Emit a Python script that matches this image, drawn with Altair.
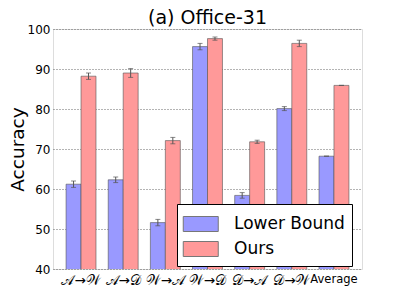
import altair as alt
import pandas as pd

categories = ["𝒜→𝒲", "𝒜→𝒟", "𝒲→𝒜", "𝒲→𝒟", "𝒟→𝒜", "𝒟→𝒲", "Average"]
series = ["Lower Bound", "Ours"]
lower = [61.2, 62.3, 51.6, 95.6, 58.4, 80.1, 68.2]
lower_err = [0.8, 0.7, 0.8, 0.8, 0.7, 0.5, 0.0]
ours = [88.2, 89.0, 72.1, 97.6, 71.8, 96.4, 85.9]
ours_err = [0.8, 1.1, 0.8, 0.4, 0.4, 0.8, 0.0]
yticks = [40, 50, 60, 70, 80, 90, 100]

rows = []
for c, v, e in zip(categories, lower, lower_err):
    rows.append({"cat": c, "series": "Lower Bound", "val": v, "lo": v - e, "hi": v + e})
for c, v, e in zip(categories, ours, ours_err):
    rows.append({"cat": c, "series": "Ours", "val": v, "lo": v - e, "hi": v + e})
df = pd.DataFrame(rows)

FONT = "DejaVu Sans"
xscale = alt.Scale(paddingInner=0.29, paddingOuter=0.31)
xaxis = alt.Axis(labelAngle=0, labelFontSize=alt.expr("datum.value == 'Average' ? 11.5 : 13.5"),
                 labelFont=FONT, labelColor="black",
                 ticks=False, domain=False, labelPadding=4, grid=False)
xenc = alt.X("cat:N", sort=categories, title=None, scale=xscale, axis=xaxis)
xoff = alt.XOffset("series:N", sort=series, scale=alt.Scale(paddingInner=0, paddingOuter=0))
yscale = alt.Scale(domain=[40, 100], nice=False, zero=False)
yaxis = alt.Axis(values=yticks, labelFontSize=12, labelFont=FONT,
                 labelColor="black", labelPadding=3, titleFont=FONT, titleFontSize=18.5,
                 titleFontWeight="normal", titleColor="black", titlePadding=0,
                 ticks=False, domain=False, labelOverlap=False,
                 gridDash=[1, 2], gridColor="#444444", gridOpacity=0.8)

bars = alt.Chart(df).mark_bar(stroke="#555555", strokeWidth=1, strokeOpacity=0.6, clip=True).encode(
    x=xenc,
    xOffset=xoff,
    y=alt.Y("val:Q", title="Accuracy", scale=yscale, axis=yaxis),
    color=alt.Color("series:N", sort=series,
                    scale=alt.Scale(domain=series, range=["#9999ff", "#ff9999"]),
                    legend=alt.Legend(title=None, orient="none", legendX=124, legendY=175,
                                      symbolType="M-1.1,-0.6H1.7V0.6H-1.1Z", symbolSize=625,
                                      symbolStrokeColor="#777777", symbolStrokeWidth=1,
                                      labelFontSize=17, labelFont=FONT, labelColor="black",
                                      labelOffset=24, rowPadding=2,
                                      fillColor="white", strokeColor="black", padding=7,
                                      symbolOpacity=1)),
)

rules = alt.Chart(df).mark_rule(color="#555555", strokeWidth=1).encode(
    x=xenc, xOffset=xoff, y=alt.Y("lo:Q", title="Accuracy", scale=yscale, axis=yaxis), y2="hi:Q")
cap_lo = alt.Chart(df).mark_tick(color="#555555", size=5, thickness=1, orient="horizontal").encode(
    x=xenc, xOffset=xoff, y=alt.Y("lo:Q", title="Accuracy", scale=yscale, axis=yaxis))
cap_hi = alt.Chart(df).mark_tick(color="#555555", size=5, thickness=1, orient="horizontal").encode(
    x=xenc, xOffset=xoff, y=alt.Y("hi:Q", title="Accuracy", scale=yscale, axis=yaxis))

chart = alt.layer(bars, rules, cap_lo, cap_hi).properties(
    width=309, height=240, padding={"left": 0, "top": 1, "right": 5, "bottom": 5},
    title=alt.Title("(a) Office-31", font=FONT, fontSize=19, fontWeight="normal", color="black", offset=-5),
).configure_view(stroke="#444444", strokeWidth=1.5).configure(background="white")

chart.save("out.html", embed_options={"renderer": "svg", "actions": False})
